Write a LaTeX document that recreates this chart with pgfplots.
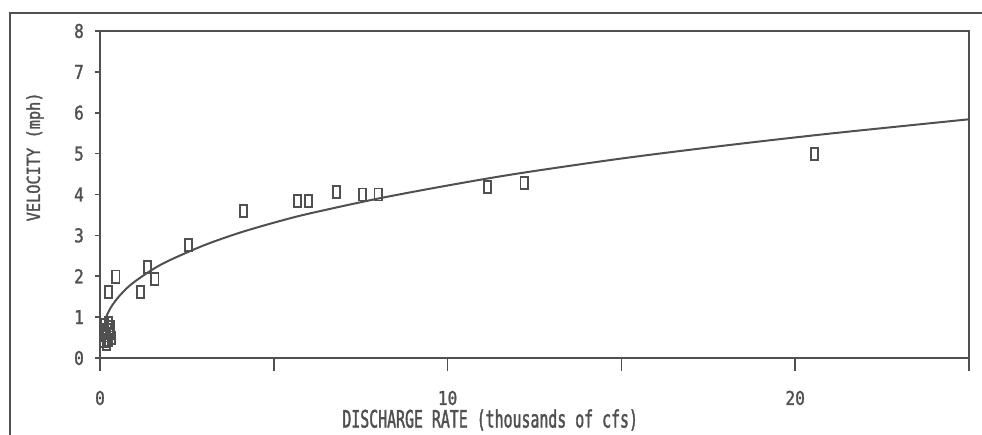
\documentclass[border=0pt]{standalone}
\usepackage{fontspec}
\usepackage{pgfplots}
\pgfplotsset{compat=1.18}
\newfontfamily\tickfont[FakeStretch=0.85,FakeBold=1.5]{DejaVu Sans Mono}
\newfontfamily\ylabfont[FakeStretch=0.85,FakeBold=1.5]{DejaVu Sans Mono}
\newfontfamily\xlabfont[FakeStretch=0.62,FakeBold=1.5]{DejaVu Sans Mono}
\definecolor{ink}{RGB}{80,80,80}
\begin{document}
\begin{tikzpicture}[x=1pt,y=1pt]
\useasboundingbox (0,0) rectangle (982,434);
\draw[ink, line width=2pt] (10,-20) -- (10,421) -- (1000,421);
\begin{axis}[
  at={(100pt,76pt)}, anchor=south west,
  scale only axis, width=869pt, height=327pt,
  xmin=0, xmax=25, ymin=0, ymax=8,
  xtick={0,5,10,15,20,25}, xticklabels={0,,10,,20,},
  ytick={0,1,...,8},
  xtick pos=bottom, ytick pos=left,
  tick align=outside,
  major tick length=5pt,
  xtick style={draw=none},
  ytick style={ink, line width=1.6pt},
  axis line style={ink, line width=2pt},
  /pgf/number format/assume math mode=true,
  ticklabel style={font=\tickfont\fontsize{19}{19}\selectfont, text=ink},
  xticklabel style={anchor=center, yshift=-35pt},
  yticklabel style={anchor=center, xshift=-16pt},
  xlabel={DISCHARGE RATE (thousands of cfs)},
  xlabel style={at={(axis description cs:0.449,0)}, anchor=center, yshift=-62pt, font=\xlabfont\fontsize{24}{24}\selectfont, text=ink},
  ylabel={VELOCITY (mph)},
  ylabel style={at={(axis description cs:-0.0748,0.615)}, anchor=center, font=\ylabfont\fontsize{18}{18}\selectfont, text=ink},
  clip=false,
]
\addplot[ink, line width=2pt, smooth] coordinates {
(0.15,0.955) (0.3,1.22) (0.5,1.46) (0.75,1.69) (1,1.87) (1.5,2.16) (2,2.39)
(3,2.76) (4,3.06) (5,3.31) (6,3.53) (8,3.90) (10,4.22) (12,4.51)
(15,4.88) (18,5.20) (21,5.49) (25,5.84)
};
\addplot[only marks, mark=square, mark size=4.5pt, mark options={ink, line width=1.8pt, xscale=0.8, yscale=1.35}] coordinates {
(0.12,0.42) (0.18,0.35) (0.25,0.45) (0.15,0.55) (0.28,0.6) (0.2,0.68)
(0.3,0.75) (0.14,0.8) (0.24,0.85) (0.32,0.5)
(0.24,1.62) (0.46,1.99) (1.17,1.62) (1.36,2.23) (1.58,1.93) (2.54,2.76)
(4.12,3.59) (5.68,3.84) (6.00,3.84) (6.80,4.06) (7.55,4.00) (8.00,4.00)
(11.15,4.18) (12.20,4.28) (20.55,4.99)
};
\end{axis}
\begin{axis}[
  at={(100pt,76pt)}, anchor=south west,
  scale only axis, width=869pt, height=327pt,
  xmin=0, xmax=25, ymin=0, ymax=8,
  xtick={0,5,10,15,20,25}, xticklabels={},
  ytick=\empty,
  xtick pos=bottom,
  tick align=outside,
  major tick length=13pt,
  xtick style={ink, line width=1.6pt},
  axis line style={draw=none},
]
\end{axis}
\end{tikzpicture}
\end{document}
